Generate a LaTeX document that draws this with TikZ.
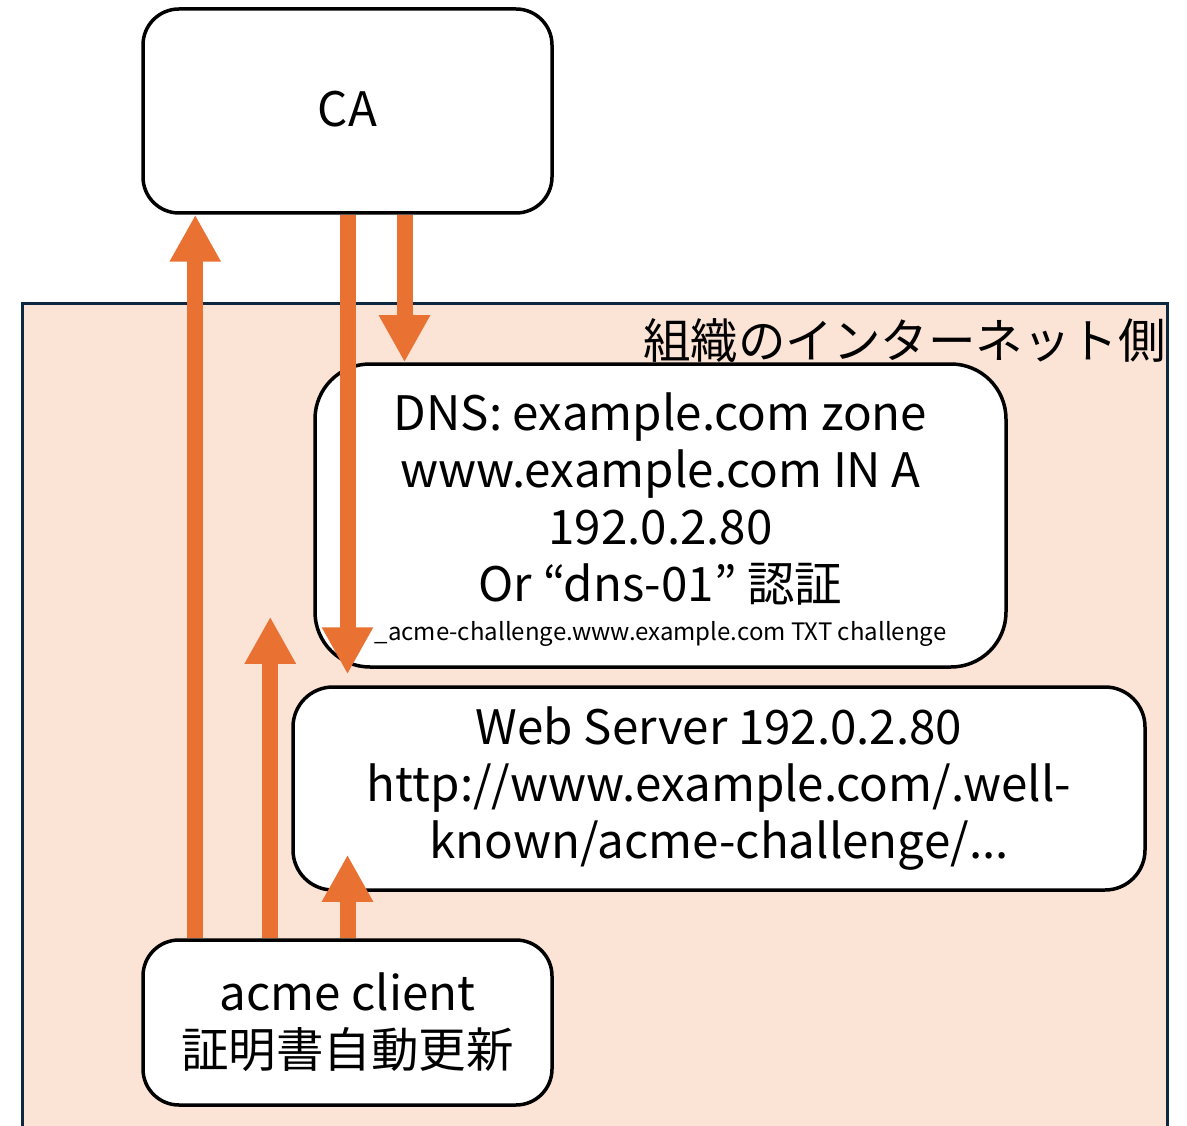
\documentclass[tikz,border=0pt]{standalone}
\usepackage{fontspec}
\setmainfont{Noto Sans CJK JP}
\usetikzlibrary{arrows.meta}
\definecolor{flowc}{HTML}{E97132}
\definecolor{zonefill}{HTML}{FBE3D6}
\definecolor{zoneline}{HTML}{0E2841}
\tikzset{
  box/.style={draw=black, line width=3.5pt, fill=white, rounded corners=#1,
    align=center, inner sep=0pt, text=black},
  box/.default=36pt,
  flow/.style={draw=flowc, line width=16pt,
    -{Triangle[length=47pt,width=48pt]}},
  bigtxt/.style={font=\fontsize{47.5}{57}\selectfont},
}
\begin{document}
\begin{tikzpicture}[x=1pt,y=-1pt]
  \clip (0,0) rectangle (1187,1126);
  \fill[white] (0,0) rectangle (1187,1126);
  % organisation's internet-facing zone
  \draw[fill=zonefill, draw=zoneline, line width=3pt] (22,304) rectangle (1167,1140);
  \node[anchor=north east, bigtxt, inner sep=0pt, text=black] (zone) at (1166,318) {組織のインターネット側};

  % boxes
  \node[box, minimum width=409pt, minimum height=204pt, bigtxt] (CA) at (347.5,111) {\raisebox{4pt}{CA}};
  \node[box=55pt, minimum width=691pt, minimum height=303pt, bigtxt] (DNS) at (660.5,515.5)
    {};
  \node[bigtxt, align=center, text=black, inner sep=0pt] (DNStext) at (660.5,520)
    {DNS: example.com zone\\www.example.com IN A\\192.0.2.80\\Or “dns-01” 認証\\[-18pt]
     {\fontsize{24}{28}\selectfont \_acme-challenge.www.example.com TXT challenge}};
  \node[box=40pt, minimum width=852pt, minimum height=203pt, bigtxt] (web) at (719,788.5)
    {Web Server 192.0.2.80\\http://www.example.com/.well-\\known/acme-challenge/...};
  \node[box, minimum width=409pt, minimum height=165pt, bigtxt] (acme) at (347.5,1022.5)
    {acme client\\証明書自動更新};

  % flows
  \draw[flow] ([xshift=54pt]acme.north west) -- ([xshift=54pt]CA.south west);
  \draw[flow] (CA.south) -- ([yshift=11pt]CA.south |- web.north);
  \draw[flow] ([xshift=57pt]CA.south) -- ([xshift=57pt]CA.south |- DNS.north);
  \draw[flow] ([xshift=129pt]acme.north west) -- ([xshift=129pt,yshift=52pt]acme.north west |- DNS.south);
  \draw[flow] (acme.north) -- ([yshift=37pt]acme.north |- web.south);
\end{tikzpicture}
\end{document}
